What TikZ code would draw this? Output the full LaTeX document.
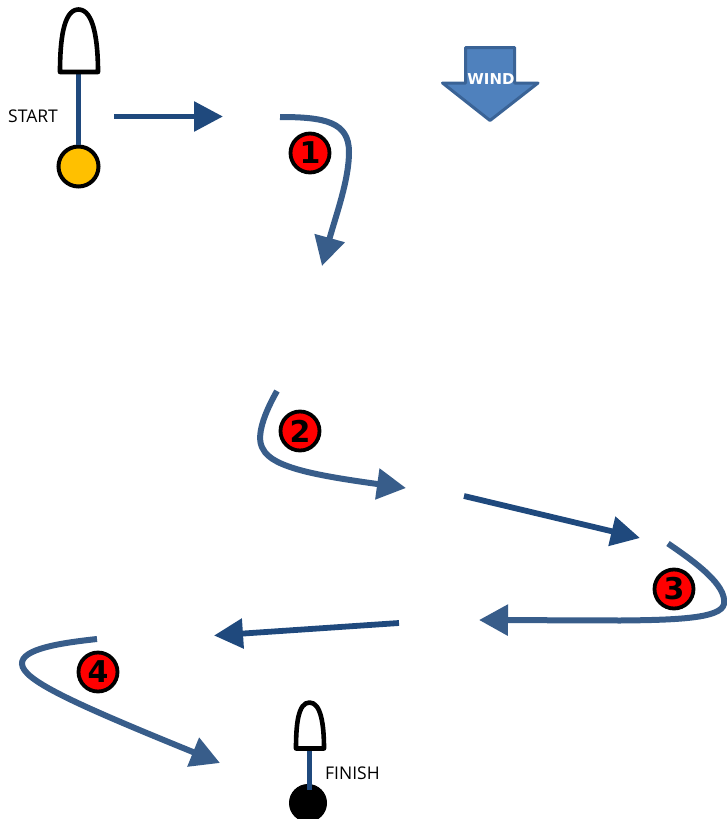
\documentclass[tikz,border=0pt]{standalone}
\usepackage{fontspec}
\setmainfont{Open Sans}
\newfontfamily\badgefont{DejaVu Sans}
\usetikzlibrary{arrows.meta}
\definecolor{navy}{HTML}{1F497D}
\definecolor{steel}{HTML}{385D8A}
\definecolor{windfill}{HTML}{4F81BD}
\definecolor{windline}{HTML}{3A6396}
\definecolor{markgold}{HTML}{FFC000}
\tikzset{
  x=1pt,y=-1pt,
  legstraight/.style={draw=navy,line width=5.8pt,-{Triangle[length=29pt,width=29pt,sharp]}},
  legcurve/.style={draw=steel,line width=6pt,-{Triangle[length=29pt,width=30pt,sharp]}},
  badge/.style={circle,draw=black,fill=red,line width=3.8pt,minimum size=39pt,inner sep=0pt,
    font=\badgefont\fontsize{30}{30}\selectfont\bfseries,text=black},
  boat/.style={draw=black,line width=4.6pt,fill=white,line join=round},
  pole/.style={draw=navy,line width=5.8pt},
  lbl/.style={font=\fontsize{17.5}{18}\selectfont,text=black,inner sep=0pt},
}
\begin{document}
\begin{tikzpicture}
\useasboundingbox (0,0) rectangle (726,819);
% start mark
\coordinate (startboatbase) at (78.5,72);
\node[circle,draw=black,fill=markgold,line width=4pt,minimum size=40pt,inner sep=0pt] (startbuoy) at (78.5,166.5) {};
\draw[pole] (startboatbase) -- (startbuoy.north);
\draw[boat] (60,72) .. controls (60,42) and (63,9.5) .. (78.5,9.5) .. controls (94,9.5) and (98,42) .. (98,72) -- cycle;
\node[lbl] (startlabel) at (33,116.5) {START};
% wind
\draw[draw=windline,fill=windfill,line width=3pt,line join=round]
  (465.5,47.5) -- (514.5,47.5) -- (514.5,83) -- (538,83) -- (490,120.5) -- (442.5,83) -- (465.5,83) -- cycle;
\node[font=\badgefont\fontsize{15}{15}\selectfont\bfseries,text=white,inner sep=0pt] (windlabel) at (491,79.5) {WIND};
% leg 1
\coordinate (a1) at (114,116.5); \coordinate (a2) at (223,116.5);
\draw[legstraight] (a1) -- (a2);
\coordinate (b1) at (280,117); \coordinate (b2) at (322,266);
\draw[legcurve] (b1) .. controls (325,117) and (349,122) .. (349,152) .. controls (349,180) and (336,215) .. (b2);
\node[badge] (n1) at (310,153) {1};
% leg 2
\coordinate (c1) at (277,391); \coordinate (c2) at (406,488);
\draw[legcurve] (c1) .. controls (265,412) and (255,437) .. (263,449) .. controls (272,468) and (320,476) .. (c2);
\node[badge] (n2) at (300,431) {2};
% leg 3
\coordinate (d1) at (464,496); \coordinate (d2) at (640,538);
\draw[legstraight] (d1) -- (d2);
% leg 4
\coordinate (e1) at (668,543.5); \coordinate (e2) at (479,620);
\draw[legcurve] (e1) .. controls (695,562) and (727,585) .. (724,604) .. controls (721,618) and (680,620) .. (620,620.5) -- (e2);
\node[badge] (n3) at (674,589) {3};
% leg 5
\coordinate (f1) at (399,623); \coordinate (f2) at (214,635.5);
\draw[legstraight] (f1) -- (f2);
% leg 6
\coordinate (g1) at (97,639); \coordinate (g2) at (220,763);
\draw[legcurve] (g1) .. controls (60,643) and (21,649) .. (22,664) .. controls (23,680) and (70,702) .. (g2);
\node[badge] (n4) at (98,672) {4};
% finish mark
\coordinate (finishboatbase) at (309.5,748);
\node[circle,draw=black,fill=black,line width=1pt,minimum size=37pt,inner sep=0pt] (finishbuoy) at (308,803) {};
\draw[pole] (finishboatbase) -- (309.5,790);
\draw[boat] (296,748.5) .. controls (296,725) and (298,702.5) .. (309.5,702.5) .. controls (321,702.5) and (324,725) .. (324,748.5) -- cycle;
\node[lbl,anchor=west] (finishlabel) at (325,773) {FINISH};
\end{tikzpicture}
\end{document}
